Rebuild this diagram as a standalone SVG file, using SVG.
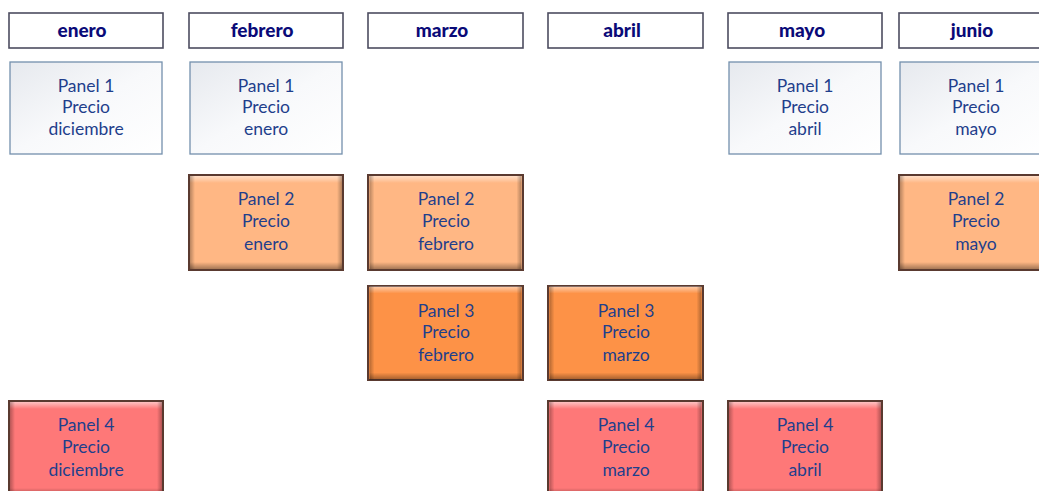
<svg xmlns="http://www.w3.org/2000/svg" width="1039" height="491" viewBox="0 0 1039 491">
<style>
.hdr rect{fill:#ffffff;stroke:#4d4d60;stroke-width:1.6}
.hdr text{font-family:Lato,"Open Sans",sans-serif;font-weight:900;font-size:19px;fill:#0a0a78;text-anchor:middle}
.p1 rect.b{fill:url(#g1);stroke:#7390ad;stroke-width:1.3}
.bev rect.b{stroke:#5a3a30;stroke-width:2}
.p2 rect.b{fill:#ffb784}
.p3 rect.b{fill:#fd9247}
.p4 rect.b{fill:#fe7878}
.t{font-family:Lato,"Open Sans",sans-serif;font-size:17.5px;fill:#1f3f8c;text-anchor:middle}
</style>
<defs>
<linearGradient id="g1" x1="0" y1="0" x2="1" y2="1">
<stop offset="0" stop-color="#e6e9ee"/>
<stop offset="0.5" stop-color="#f8f9fb"/>
<stop offset="1" stop-color="#ffffff"/>
</linearGradient>
<linearGradient id="hiT" x1="0" y1="0" x2="0" y2="1">
<stop offset="0" stop-color="#ffffff" stop-opacity="0.55"/>
<stop offset="1" stop-color="#ffffff" stop-opacity="0"/>
</linearGradient>
<linearGradient id="shB" x1="0" y1="0" x2="0" y2="1">
<stop offset="0" stop-color="#000000" stop-opacity="0"/>
<stop offset="1" stop-color="#000000" stop-opacity="0.35"/>
</linearGradient>
<linearGradient id="shL" x1="0" y1="0" x2="1" y2="0">
<stop offset="0" stop-color="#000000" stop-opacity="0.28"/>
<stop offset="1" stop-color="#000000" stop-opacity="0"/>
</linearGradient>
<linearGradient id="shR" x1="0" y1="0" x2="1" y2="0">
<stop offset="0" stop-color="#000000" stop-opacity="0"/>
<stop offset="1" stop-color="#000000" stop-opacity="0.3"/>
</linearGradient>
<g id="bevel">
<rect x="1" y="1" width="152" height="7" fill="url(#hiT)"/>
<rect x="1" y="1" width="5" height="93" fill="url(#shL)"/>
<rect x="148" y="1" width="5" height="93" fill="url(#shR)"/>
<rect x="1" y="87" width="152" height="7" fill="url(#shB)"/>
</g>
</defs>
<rect width="1039" height="491" fill="#ffffff"/>
<g id="connectors"></g>

<g id="h-enero" class="hdr"><rect x="9" y="13" width="154" height="35"/><text x="82" y="37">enero</text></g>
<g id="h-febrero" class="hdr"><rect x="189" y="13" width="154" height="35"/><text x="262" y="37">febrero</text></g>
<g id="h-marzo" class="hdr"><rect x="368" y="13" width="155" height="35"/><text x="442" y="37">marzo</text></g>
<g id="h-abril" class="hdr"><rect x="548" y="13" width="155" height="35"/><text x="622" y="37">abril</text></g>
<g id="h-mayo" class="hdr"><rect x="728" y="13" width="154" height="35"/><text x="802" y="37">mayo</text></g>
<g id="h-junio" class="hdr"><rect x="899" y="13" width="154" height="35"/><text x="972" y="37">junio</text></g>

<g id="p1-enero" class="p1"><rect class="b" x="10" y="62" width="152" height="92"/><text class="t" x="86"><tspan x="86" y="92">Panel 1</tspan><tspan x="86" y="113">Precio</tspan><tspan x="86" y="135">diciembre</tspan></text></g>
<g id="p1-febrero" class="p1"><rect class="b" x="190" y="62" width="152" height="92"/><text class="t"><tspan x="266" y="92">Panel 1</tspan><tspan x="266" y="113">Precio</tspan><tspan x="266" y="135">enero</tspan></text></g>
<g id="p1-mayo" class="p1"><rect class="b" x="729" y="62" width="152" height="92"/><text class="t"><tspan x="805" y="92">Panel 1</tspan><tspan x="805" y="113">Precio</tspan><tspan x="805" y="135">abril</tspan></text></g>
<g id="p1-junio" class="p1"><rect class="b" x="900" y="62" width="152" height="92"/><text class="t"><tspan x="976" y="92">Panel 1</tspan><tspan x="976" y="113">Precio</tspan><tspan x="976" y="135">mayo</tspan></text></g>

<g id="p2-febrero" class="bev p2"><rect class="b" x="189" y="175" width="154" height="95"/><use href="#bevel" x="189" y="175"/><text class="t"><tspan x="266" y="205">Panel 2</tspan><tspan x="266" y="227">Precio</tspan><tspan x="266" y="250">enero</tspan></text></g>
<g id="p2-marzo" class="bev p2"><rect class="b" x="368" y="175" width="155" height="95"/><use href="#bevel" x="368.5" y="175"/><text class="t"><tspan x="446" y="205">Panel 2</tspan><tspan x="446" y="227">Precio</tspan><tspan x="446" y="250">febrero</tspan></text></g>
<g id="p2-junio" class="bev p2"><rect class="b" x="899" y="175" width="154" height="95"/><use href="#bevel" x="899" y="175"/><text class="t"><tspan x="976" y="205">Panel 2</tspan><tspan x="976" y="227">Precio</tspan><tspan x="976" y="250">mayo</tspan></text></g>

<g id="p3-marzo" class="bev p3"><rect class="b" x="368" y="286" width="155" height="94"/><use href="#bevel" x="368.5" y="285.5"/><text class="t"><tspan x="446" y="317">Panel 3</tspan><tspan x="446" y="338">Precio</tspan><tspan x="446" y="361">febrero</tspan></text></g>
<g id="p3-abril" class="bev p3"><rect class="b" x="548" y="286" width="155" height="94"/><use href="#bevel" x="548.5" y="285.5"/><text class="t"><tspan x="626" y="317">Panel 3</tspan><tspan x="626" y="338">Precio</tspan><tspan x="626" y="361">marzo</tspan></text></g>

<g id="p4-enero" class="bev p4"><rect class="b" x="9" y="401" width="154" height="95"/><use href="#bevel" x="9" y="401"/><text class="t"><tspan x="86" y="431">Panel 4</tspan><tspan x="86" y="453">Precio</tspan><tspan x="86" y="476">diciembre</tspan></text></g>
<g id="p4-abril" class="bev p4"><rect class="b" x="548" y="401" width="155" height="95"/><use href="#bevel" x="548.5" y="401"/><text class="t"><tspan x="626" y="431">Panel 4</tspan><tspan x="626" y="453">Precio</tspan><tspan x="626" y="476">marzo</tspan></text></g>
<g id="p4-mayo" class="bev p4"><rect class="b" x="728" y="401" width="154" height="95"/><use href="#bevel" x="728" y="401"/><text class="t"><tspan x="805" y="431">Panel 4</tspan><tspan x="805" y="453">Precio</tspan><tspan x="805" y="476">abril</tspan></text></g>
</svg>
